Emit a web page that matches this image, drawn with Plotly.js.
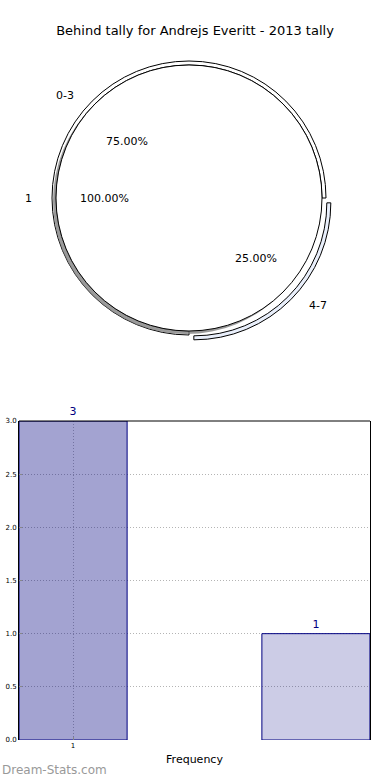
<!DOCTYPE html>
<html><head><meta charset="utf-8">
<script src="https://cdn.plot.ly/plotly-3.0.1.min.js"></script>
<style>html,body{margin:0;padding:0;background:#fff}#chart{width:390px;height:780px}</style>
</head><body><div id="chart"></div>
<script>
const chartTitle = 'Behind tally for Andrejs Everitt - 2013 tally';
const innerLabels = ['1'];
const innerValues = [4];
const outerLabels = ['0-3', '4-7'];
const outerValues = [3, 1];
const outerExplode = [0, 0.05];
const outerColors = ['#ffffff', '#e9effb'];
const barX = [1, 2];
const barValues = [3, 1];
const barTickVals = [1];
const barTickText = ['1'];
const barColors = ['rgba(0,0,128,0.36)', 'rgba(0,0,128,0.2)'];
const yTicks = [0, 0.5, 1, 1.5, 2, 2.5, 3];
const xTitle = 'Frequency';
const watermark = 'Dream-Stats.com';

const W = 390, H = 780;
const FONT = 'DejaVu Sans, Verdana, sans-serif';
const CX = 189, CY = 198, R = 133, RING = 4;
const PULL = Math.max(...outerExplode);
function dom(cx, cy, half) {
  return {x: [(cx - half) / W, (cx + half) / W], y: [(H - cy - half) / H, (H - cy + half) / H]};
}
const rOut = R + RING;

const traces = [];
// outer ring
traces.push({type: 'pie', values: outerValues, labels: outerLabels, sort: false,
  direction: 'counterclockwise', rotation: 180, hole: R / rOut, pull: outerExplode,
  domain: dom(CX, CY, rOut * (1 + PULL)),
  marker: {colors: outerColors, line: {color: '#000', width: 1}},
  textinfo: 'none', hoverinfo: 'skip', showlegend: false});
// shadow of inner pie
traces.push({type: 'pie', values: innerValues, labels: innerLabels, sort: false,
  domain: dom(CX - 3, CY + 3, R), marker: {colors: ['rgba(120,120,120,0.75)'], line: {width: 0}},
  textinfo: 'none', hoverinfo: 'skip', showlegend: false});
// inner pie
traces.push({type: 'pie', values: innerValues, labels: innerLabels, sort: false,
  direction: 'counterclockwise', rotation: 180,
  domain: dom(CX, CY, R),
  marker: {colors: ['#ffffff'], line: {color: '#000', width: 1}},
  textinfo: 'none', hoverinfo: 'skip', showlegend: false});
// bars
traces.push({type: 'bar', x: barX, y: barValues, width: 0.445,
  marker: {color: barColors, line: {color: '#000080', width: 1}},
  text: barValues.map(String), textposition: 'outside', cliponaxis: false,
  textfont: {family: FONT, size: 11, color: '#000080'}, hoverinfo: 'skip', showlegend: false});

// pie text annotations (matplotlib-style label / pct placement)
const annotations = [];
function px2paper(x, y) { return {x: x / W, y: 1 - y / H}; }
function addPieText(labels, values, rx, ry, explode) {
  const total = values.reduce((a, b) => a + b, 0);
  let cum = 0;
  labels.forEach((lab, i) => {
    const mid = (cum + values[i] / 2) / total * 2 * Math.PI;
    cum += values[i];
    const c = Math.cos(mid), s = Math.sin(mid);
    const ex = (explode ? explode[i] : 0);
    const ox = CX + ex * rx * c, oy = CY - ex * ry * s;
    const lp = px2paper(ox + 1.1 * rx * c, oy - 1.1 * ry * s);
    annotations.push({xref: 'paper', yref: 'paper', x: lp.x, y: lp.y, text: lab, showarrow: false,
      xanchor: c > 1e-6 ? 'left' : (c < -1e-6 ? 'right' : 'center'), yanchor: 'middle',
      font: {family: FONT, size: 11, color: '#000'}});
    const pp = px2paper(ox + 0.6 * rx * c, oy - 0.6 * ry * s);
    annotations.push({xref: 'paper', yref: 'paper', x: pp.x, y: pp.y,
      text: (100 * values[i] / total).toFixed(2) + '%', showarrow: false,
      xanchor: 'center', yanchor: 'middle', font: {family: FONT, size: 11, color: '#000'}});
  });
}
addPieText(innerLabels, innerValues, 141, 128, null);
addPieText(outerLabels, outerValues, 145, 132, outerExplode);
annotations.push({xref: 'paper', yref: 'paper', x: 0, y: 1 - 770 / H, text: watermark, showarrow: false,
  xanchor: 'left', yanchor: 'middle', font: {family: FONT, size: 12, color: '#999999'}});

const layout = {
  width: W, height: H, margin: {l: 0, r: 0, t: 0, b: 0},
  paper_bgcolor: '#fff', plot_bgcolor: 'rgba(0,0,0,0)', showlegend: false, hovermode: false,
  font: {family: FONT, color: '#000'},
  title: {text: chartTitle, x: 0.5, xanchor: 'center', y: 1 - 30 / H, yanchor: 'middle', yref: 'container',
    font: {family: FONT, size: 13, color: '#000'}},
  xaxis: {domain: [19 / W, 370 / W], range: [0.7773, 2.2227], tickmode: 'array', tickvals: barTickVals,
    ticktext: barTickText, ticks: 'inside', ticklen: 3, tickcolor: '#888', tickfont: {size: 7, family: FONT},
    showgrid: true, gridcolor: '#b4b4b4', griddash: '1px,2px', gridwidth: 1, zeroline: false, showline: false,
    fixedrange: true,
    title: {text: xTitle, font: {size: 11, family: FONT}, standoff: 6}},
  yaxis: {domain: [40 / H, 359 / H], range: [0, 3], tickmode: 'array', tickvals: yTicks, tickformat: '.1f',
    ticks: 'inside', ticklen: 3, tickcolor: '#888', tickfont: {size: 7, family: FONT},
    showgrid: true, gridcolor: '#b4b4b4', griddash: '1px,2px', gridwidth: 1, zeroline: false,
    showline: true, mirror: true, linecolor: '#000', linewidth: 1, fixedrange: true},
  shapes: [{type: 'line', xref: 'x domain', yref: 'y domain', x0: 0, x1: 1, y0: 1, y1: 1,
    line: {color: '#000', width: 1}}],
  annotations: annotations
};
Plotly.newPlot('chart', traces, layout, {displayModeBar: false, staticPlot: true});
</script></body></html>
